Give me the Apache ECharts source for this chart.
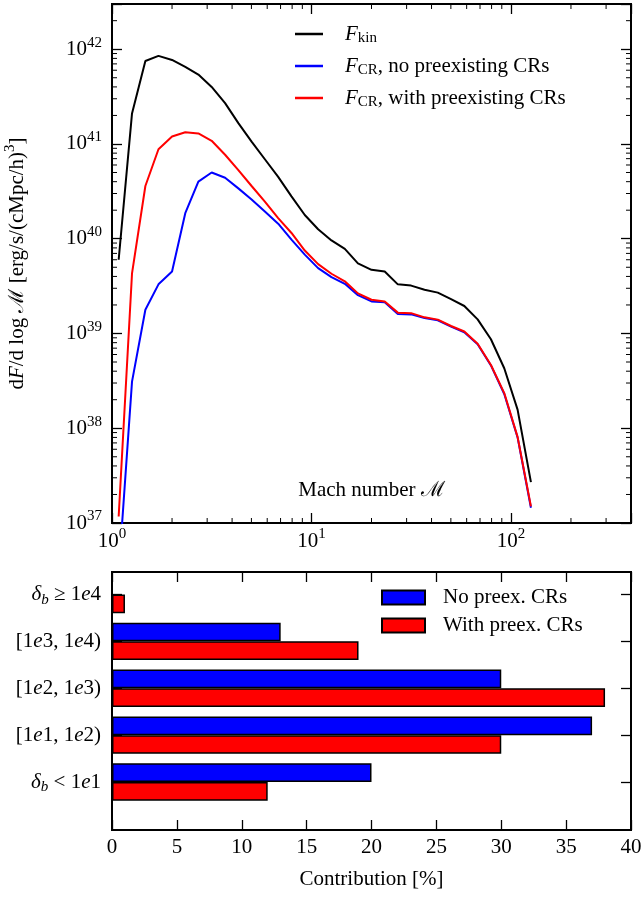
<!DOCTYPE html>
<html><head><meta charset="utf-8">
<script src="https://cdn.jsdelivr.net/npm/echarts@6/dist/echarts.min.js"></script>
<style>html,body{margin:0;padding:0;background:#fff}#c{width:643px;height:897px}</style>
</head><body><div id="c"></div>
<script>
// ---------- data: top panel ----------
const machNumbers = [1.08,1.26,1.47,1.71,2.00,2.33,2.71,3.16,3.69,4.30,5.01,5.84,6.81,7.94,9.26,
  10.8,12.6,14.7,17.1,20.0,23.3,27.1,31.6,36.9,43.0,50.1,58.4,68.1,79.4,92.6,108,126];
const fKin = [6.0e39,2.1e41,7.5e41,8.5e41,7.7e41,6.5e41,5.4e41,4.0e41,2.7e41,1.66e41,1.06e41,6.9e40,4.5e40,2.8e40,1.78e40,
  1.26e40,9.6e39,7.8e39,5.5e39,4.7e39,4.5e39,3.3e39,3.2e39,2.9e39,2.7e39,2.3e39,1.95e39,1.41e39,8.7e38,4.3e38,1.57e38,2.7e37];
const fCRnoPre = [3.0e36,3.1e38,1.78e39,3.3e39,4.5e39,1.86e40,4.0e40,5.0e40,4.4e40,3.4e40,2.6e40,1.94e40,1.44e40,9.8e39,6.8e39,
  4.9e39,3.94e39,3.34e39,2.54e39,2.18e39,2.14e39,1.61e39,1.59e39,1.46e39,1.38e39,1.18e39,1.03e39,7.7e38,4.6e38,2.3e38,8.0e37,1.45e37];
const fCRwithPre = [1.17e37,4.3e39,3.6e40,8.8e40,1.2e41,1.33e41,1.29e41,1.08e41,7.7e40,5.3e40,3.6e40,2.46e40,1.65e40,1.15e40,7.5e39,
  5.4e39,4.27e39,3.55e39,2.65e39,2.27e39,2.18e39,1.66e39,1.64e39,1.48e39,1.4e39,1.2e39,1.05e39,7.8e38,4.65e38,2.35e38,8.1e37,1.5e37];
const seriesNames = ['F_kin', 'F_CR, no preexisting CRs', 'F_CR, with preexisting CRs'];
const machRange = [1, 400];
const fluxRange = [1e37, 3e42];

// ---------- data: bottom panel ----------
const densityBins = ['δ_b ≥ 1e4', '[1e3, 1e4)', '[1e2, 1e3)', '[1e1, 1e2)', 'δ_b < 1e1'];
const contribNoPre = [0, 13, 30, 37, 20];
const contribWithPre = [1, 19, 38, 30, 12];
const barNames = ['No preex. CRs', 'With preex. CRs'];
const contribTicks = [0, 5, 10, 15, 20, 25, 30, 35, 40];

// ---------- styles ----------
const FONT = 'Liberation Serif';
const rich = {
  n:   {fontFamily: FONT, fontSize: 21, lineHeight: 22, padding: [4,0,4,0], color: '#000'},
  i:   {fontFamily: FONT, fontSize: 21, fontStyle: 'italic', lineHeight: 22, padding: [4,0,4,0], color: '#000'},
  sup: {fontFamily: FONT, fontSize: 15, lineHeight: 15, padding: [1,0,14,0], color: '#000'},
  sub: {fontFamily: FONT, fontSize: 15, lineHeight: 15, padding: [12,0,3,0], color: '#000'},
  isub:{fontFamily: FONT, fontSize: 15, fontStyle: 'italic', lineHeight: 15, padding: [13,0,2,0], color: '#000'},
  gap: {fontFamily: FONT, fontSize: 21, lineHeight: 22, padding: [4,0,4,0], width: 17}
};
function powLabel(v) {
  const e = Math.log10(v), r = Math.round(e);
  if (Math.abs(e - r) > 1e-6) return '';
  return '{n|10}{sup|' + r + '}';
}
function richCat(s) {
  let out = '', buf = '';
  const flush = () => { if (buf) { out += '{n|' + buf + '}'; buf = ''; } };
  for (let k = 0; k < s.length; k++) {
    const c = s[k];
    if (c === 'δ') { flush(); out += '{i|δ}'; }
    else if (c === '_') { flush(); out += '{isub|' + s[k + 1] + '}'; k++; }
    else if (c === 'e') { flush(); out += '{i|e}'; }
    else buf += c;
  }
  flush();
  return out;
}
function richLegend(name) {
  const m = name.match(/^F_(\w+)(.*)$/);
  return '{gap| }{i|F}{sub|' + m[1] + '}' + (m[2] ? '{n|' + m[2] + '}' : '');
}
const majorTick = () => ({show: true, inside: true, length: 10, lineStyle: {color: '#000', width: 1.3}});
const noLine = {show: false};

const chart = echarts.init(document.getElementById('c'), null, {renderer: 'canvas'});
const option = {
  animation: false,
  backgroundColor: '#fff',
  textStyle: {fontFamily: FONT},
  grid: [
    {left: 112, top: 4, width: 519, height: 519, show: true, borderColor: '#000', borderWidth: 2,
      outerBoundsMode: 'none', containLabel: false},
    {left: 112, top: 572, width: 519, height: 258, show: true, borderColor: '#000', borderWidth: 2,
      outerBoundsMode: 'none', containLabel: false},
    {left: 112, top: 571, width: 519, height: 234.5, show: false,
      outerBoundsMode: 'none', containLabel: false}
  ],
  legend: [
    {
      orient: 'vertical', left: 295, top: 19, padding: 0, itemGap: 2,
      icon: 'rect', itemWidth: 28, itemHeight: 2.5,
      data: seriesNames, formatter: richLegend,
      textStyle: {rich: rich}
    },
    {
      orient: 'vertical', left: 381, top: 587, padding: 0, itemGap: 7,
      icon: 'rect', itemWidth: 43, itemHeight: 14,
      data: barNames,
      formatter: n => '{gap2| }{n|' + n + '}',
      textStyle: {rich: {gap2: {fontFamily: FONT, fontSize: 21, lineHeight: 22, width: 13},
                         n: {fontFamily: FONT, fontSize: 21, lineHeight: 22, color: '#000'}}}
    }
  ],
  xAxis: [
    {
      type: 'log', gridIndex: 0, min: machRange[0], max: machRange[1], position: 'bottom',
      axisLine: noLine, splitLine: noLine, axisTick: majorTick(),
      axisLabel: {formatter: powLabel, margin: 7, rich: rich},
      name: '{n|Mach number ℳ}', nameLocation: 'middle', nameGap: -44,
      nameTextStyle: {rich: rich}
    },
    {
      type: 'log', gridIndex: 0, min: machRange[0], max: machRange[1], position: 'top',
      axisLine: noLine, splitLine: noLine, axisTick: majorTick(),
      axisLabel: {show: false}
    },
    {
      type: 'value', gridIndex: 1, min: 0, max: 40, interval: 5, position: 'bottom',
      axisLine: noLine, splitLine: noLine, axisTick: majorTick(),
      axisLabel: {margin: 6, fontFamily: FONT, fontSize: 21, color: '#000', lineHeight: 22,
        formatter: v => contribTicks.indexOf(v) >= 0 ? String(v) : ''},
      name: 'Contribution [%]', nameLocation: 'middle', nameGap: 38,
      nameTextStyle: {fontFamily: FONT, fontSize: 21, color: '#000', lineHeight: 22}
    },
    {
      type: 'value', gridIndex: 1, min: 0, max: 40, interval: 5, position: 'top',
      axisLine: noLine, splitLine: noLine, axisTick: majorTick(),
      axisLabel: {show: false}
    },
    {type: 'value', gridIndex: 2, min: 0, max: 40, show: false}
  ],
  yAxis: [
    {
      type: 'log', gridIndex: 0, min: fluxRange[0], max: fluxRange[1], position: 'left',
      axisLine: noLine, splitLine: noLine, axisTick: majorTick(),
      axisLabel: {formatter: powLabel, margin: 10, rich: rich},
      name: '{n|d}{i|F}{n|/d log ℳ [erg/s/(cMpc/h)}{sup|3}{n|]}',
      nameLocation: 'middle', nameRotate: 90, nameGap: 84,
      nameTextStyle: {rich: rich}
    },
    {
      type: 'log', gridIndex: 0, min: fluxRange[0], max: fluxRange[1], position: 'right',
      axisLine: noLine, splitLine: noLine, axisTick: majorTick(),
      axisLabel: {show: false}
    },
    {type: 'value', gridIndex: 1, min: 0, max: 1, show: false},
    {
      type: 'category', gridIndex: 2, data: densityBins, inverse: true, position: 'left',
      axisLine: noLine, splitLine: noLine,
      axisTick: Object.assign(majorTick(), {alignWithLabel: true}),
      axisLabel: {interval: 0, margin: 11, formatter: richCat, rich: rich}
    },
    {
      type: 'category', gridIndex: 2, data: densityBins, inverse: true, position: 'right',
      axisLine: noLine, splitLine: noLine,
      axisTick: Object.assign(majorTick(), {alignWithLabel: true}),
      axisLabel: {show: false}
    }
  ],
  series: [
    {name: seriesNames[0], type: 'line', xAxisIndex: 0, yAxisIndex: 0, symbol: 'none', clip: true,
      color: '#000000', lineStyle: {width: 2, color: '#000000'},
      data: machNumbers.map((m, k) => [m, fKin[k]])},
    {name: seriesNames[1], type: 'line', xAxisIndex: 0, yAxisIndex: 0, symbol: 'none', clip: true,
      color: '#0000ff', lineStyle: {width: 2, color: '#0000ff'},
      data: machNumbers.map((m, k) => [m, fCRnoPre[k]])},
    {name: seriesNames[2], type: 'line', xAxisIndex: 0, yAxisIndex: 0, symbol: 'none', clip: true,
      color: '#ff0000', lineStyle: {width: 2, color: '#ff0000'},
      data: machNumbers.map((m, k) => [m, fCRwithPre[k]])},
    {name: barNames[0], type: 'bar', xAxisIndex: 4, yAxisIndex: 3, barWidth: 18.7, barGap: '0%',
      itemStyle: {color: '#0000ff', borderColor: '#000', borderWidth: 1.5},
      data: contribNoPre},
    {name: barNames[1], type: 'bar', xAxisIndex: 4, yAxisIndex: 3, barWidth: 18.7, barGap: '0%',
      itemStyle: {color: '#ff0000', borderColor: '#000', borderWidth: 1.5},
      data: contribWithPre}
  ]
};
chart.setOption(option);

// minor log ticks placed through the axes' own scales
const toX = v => chart.convertToPixel({xAxisIndex: 0}, v);
const toY = v => chart.convertToPixel({yAxisIndex: 0}, v);
const yBot = toY(fluxRange[0]);
const yTop = toY(fluxRange[1]);
const xLeft = toX(machRange[0]);
const xRight = toX(machRange[1]);
const g = [];
const mk = (x1, y1, x2, y2) => ({type: 'line', silent: true, z: 50,
  shape: {x1: x1, y1: y1, x2: x2, y2: y2}, style: {stroke: '#000', lineWidth: 1}});
for (let n = 0; n <= 3; n++) {
  for (let m = 2; m <= 9; m++) {
    const v = m * Math.pow(10, n);
    if (v <= machRange[0] || v >= machRange[1]) continue;
    const x = toX(v);
    g.push(mk(x, yBot, x, yBot - 5));
    g.push(mk(x, yTop, x, yTop + 5));
  }
}
for (let n = 37; n <= 42; n++) {
  for (let m = 2; m <= 9; m++) {
    const v = m * Math.pow(10, n);
    if (v <= fluxRange[0] || v >= fluxRange[1] * 1.0001) continue;
    const y = toY(v);
    g.push(mk(xLeft, y, xLeft + 5, y));
    g.push(mk(xRight, y, xRight - 5, y));
  }
}
chart.setOption({graphic: {elements: g}});
</script>
</body></html>
